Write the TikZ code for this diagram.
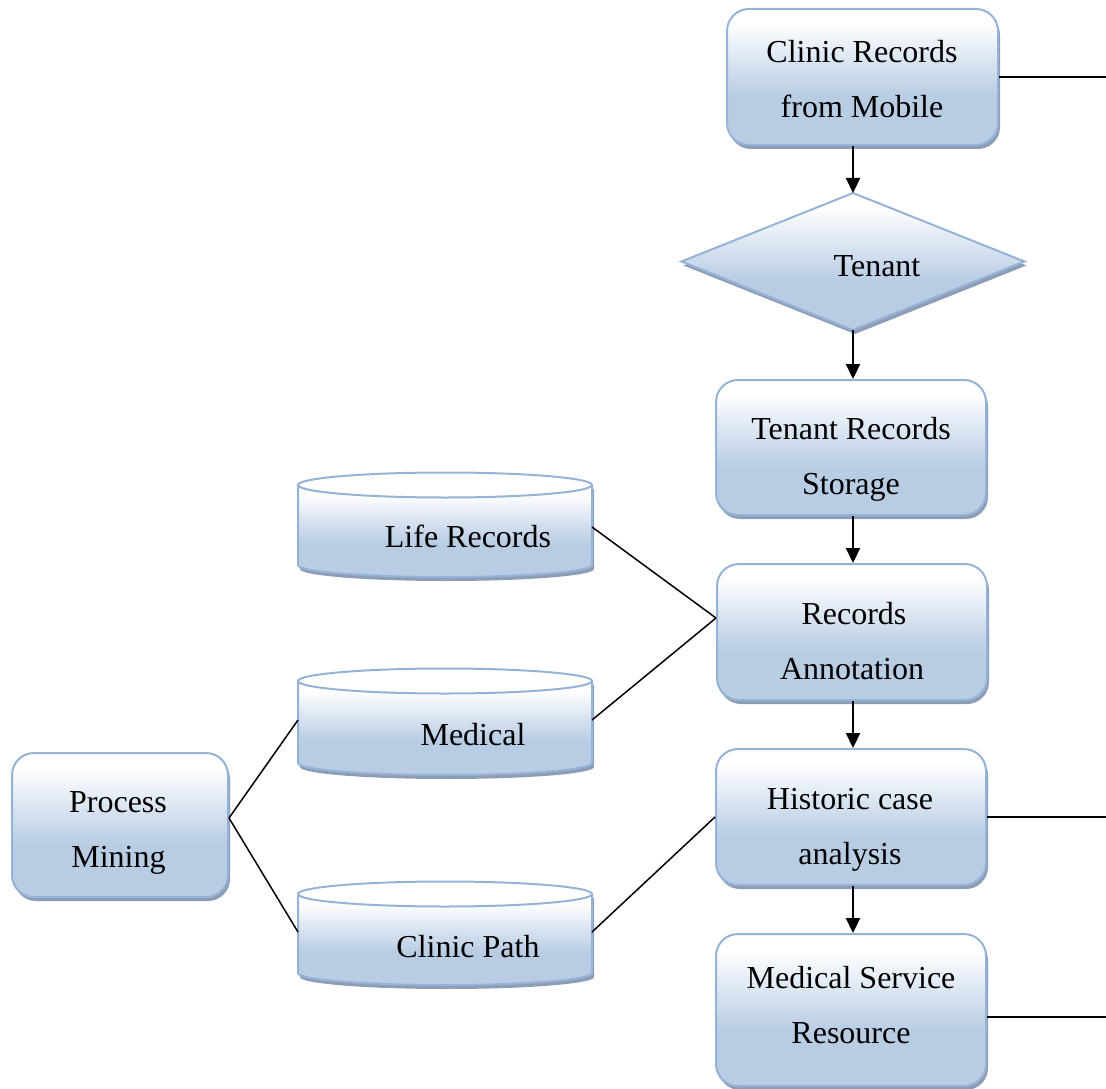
\documentclass[tikz,border=0pt]{standalone}
\usepackage{fontspec}
\setmainfont{Liberation Serif}
\usetikzlibrary{shapes.geometric,shadows,arrows.meta,calc}
\definecolor{bordc}{HTML}{95B3D7}
\definecolor{fillc}{HTML}{B8CCE4}
\definecolor{shadc}{HTML}{8D9DB5}
\pgfdeclareverticalshading{boxshade}{100bp}{color(0bp)=(fillc); color(25bp)=(fillc); color(43bp)=(fillc); color(70bp)=(white); color(100bp)=(white)}
\newcommand\mycyl[4]{%
  \pgfmathsetmacro\cylcx{(#1+#2)/2}%
  \pgfmathsetmacro\cylrx{(#2-#1)/2}%
  \fill[shadc] (#1+2,#3+4) -- (#1+2,#4+4) arc[start angle=180,end angle=360,x radius=\cylrx pt,y radius=12pt] -- (#2+2,#3+4) -- cycle;
  \shade[shading=boxshade,draw=bordc,line width=2pt] (#1,#3) -- (#1,#4) arc[start angle=180,end angle=360,x radius=\cylrx pt,y radius=12pt] -- (#2,#3) -- cycle;
  \filldraw[fill=white,draw=bordc,line width=2pt] (\cylcx,#3) ellipse[x radius=\cylrx pt,y radius=12.5pt];
}
\tikzset{
  boxnode/.style={rectangle, rounded corners=22pt, draw=bordc, line width=2pt,
    shading=boxshade, inner sep=0pt,
    drop shadow={shadow xshift=2pt, shadow yshift=-4pt, fill=shadc, opacity=1}},
  decnode/.style={diamond, draw=bordc, line width=2pt, shading=boxshade, inner sep=0pt, outer sep=0pt,
    drop shadow={shadow xshift=2pt, shadow yshift=-4pt, fill=shadc, opacity=1}},
  anchornode/.style={rectangle, inner sep=0pt, outer sep=0pt},
  txt/.style={font=\fontsize{32}{55}\selectfont, inner sep=0pt, anchor=base},
  arr/.style={line width=2.2pt, -{Triangle[width=14pt,length=15pt]}},
  conn/.style={line width=1.5pt}
}
\begin{document}
\begin{tikzpicture}[x=1pt,y=-1pt]
\useasboundingbox (0,0) rectangle (1106,1089);
% cylinders
\mycyl{298}{592}{485}{565}
\mycyl{298}{592}{681}{763}
\mycyl{298}{592}{894}{973}
\node[anchornode, minimum width=294pt, minimum height=60pt] (lr) at (445,527) {};
\node[anchornode, minimum width=294pt, minimum height=60pt] (med) at (445,720) {};
\node[anchornode, minimum width=294pt, minimum height=60pt] (cp) at (445,932) {};
\node[txt] (lrt) at (468,547) {Life Records};
\node[txt] (medt) at (473,745) {Medical};
\node[txt] (cpt) at (468,957) {Clinic Path};
% boxes
\node[boxnode, minimum width=271pt, minimum height=136pt] (clinic) at (862.5,77) {};
\node[decnode, minimum width=343pt, minimum height=137pt] (tenant) at (853,261.5) {};
\node[boxnode, minimum width=270pt, minimum height=135pt] (trs) at (851,447.5) {};
\node[boxnode, minimum width=270pt, minimum height=136pt] (ra) at (852,632) {};
\node[boxnode, minimum width=270pt, minimum height=136pt] (hca) at (851,817) {};
\node[boxnode, minimum width=270pt, minimum height=152pt] (msr) at (851,1010) {};
\node[boxnode, minimum width=216pt, minimum height=144pt] (pm) at (120,825) {};
% texts
\node[txt] (clinicA) at (862,63) {Clinic Records};
\node[txt] (clinicB) at (862,118) {from Mobile};
\node[txt] (tenantt) at (877,276) {Tenant};
\node[txt] (trsA) at (851,439) {Tenant Records};
\node[txt] (trsB) at (851,494) {Storage};
\node[txt] (raA) at (854,624) {Records};
\node[txt] (raB) at (852,679) {Annotation};
\node[txt] (hcaA) at (850,809) {Historic case};
\node[txt] (hcaB) at (850,864) {analysis};
\node[txt] (msrA) at (851,988) {Medical Service};
\node[txt] (msrB) at (851,1043) {Resource};
\node[txt] (pmA) at (118,812) {Process};
\node[txt] (pmB) at (118.5,867) {Mining};
% free ends
\coordinate (e1) at (1106,77);
\coordinate (e2) at (1106,817);
\coordinate (e3) at (1106,1017);
% arrows
\draw[arr] (clinic.south -| tenant.north) -- (tenant.north);
\draw[arr] (tenant.south) -- (tenant.south |- trs.north);
\draw[arr] (trs.south -| tenant.south) -- (tenant.south |- ra.north);
\draw[arr] (ra.south -| tenant.south) -- (tenant.south |- hca.north);
\draw[arr] (hca.south -| tenant.south) -- (tenant.south |- msr.north);
% lines
\draw[conn] (clinic.east) -- (e1);
\draw[conn] (hca.east) -- (e2);
\draw[conn] ([yshift=-7pt]msr.east) -- (e3);
\draw[conn] (lr.east) -- ([yshift=14pt]ra.west);
\draw[conn] (med.east) -- ([yshift=14pt]ra.west);
\draw[conn] ([yshift=7pt]pm.east) -- (med.west);
\draw[conn] ([yshift=7pt]pm.east) -- (cp.west);
\draw[conn] (cp.east) -- (hca.west);
\end{tikzpicture}
\end{document}
